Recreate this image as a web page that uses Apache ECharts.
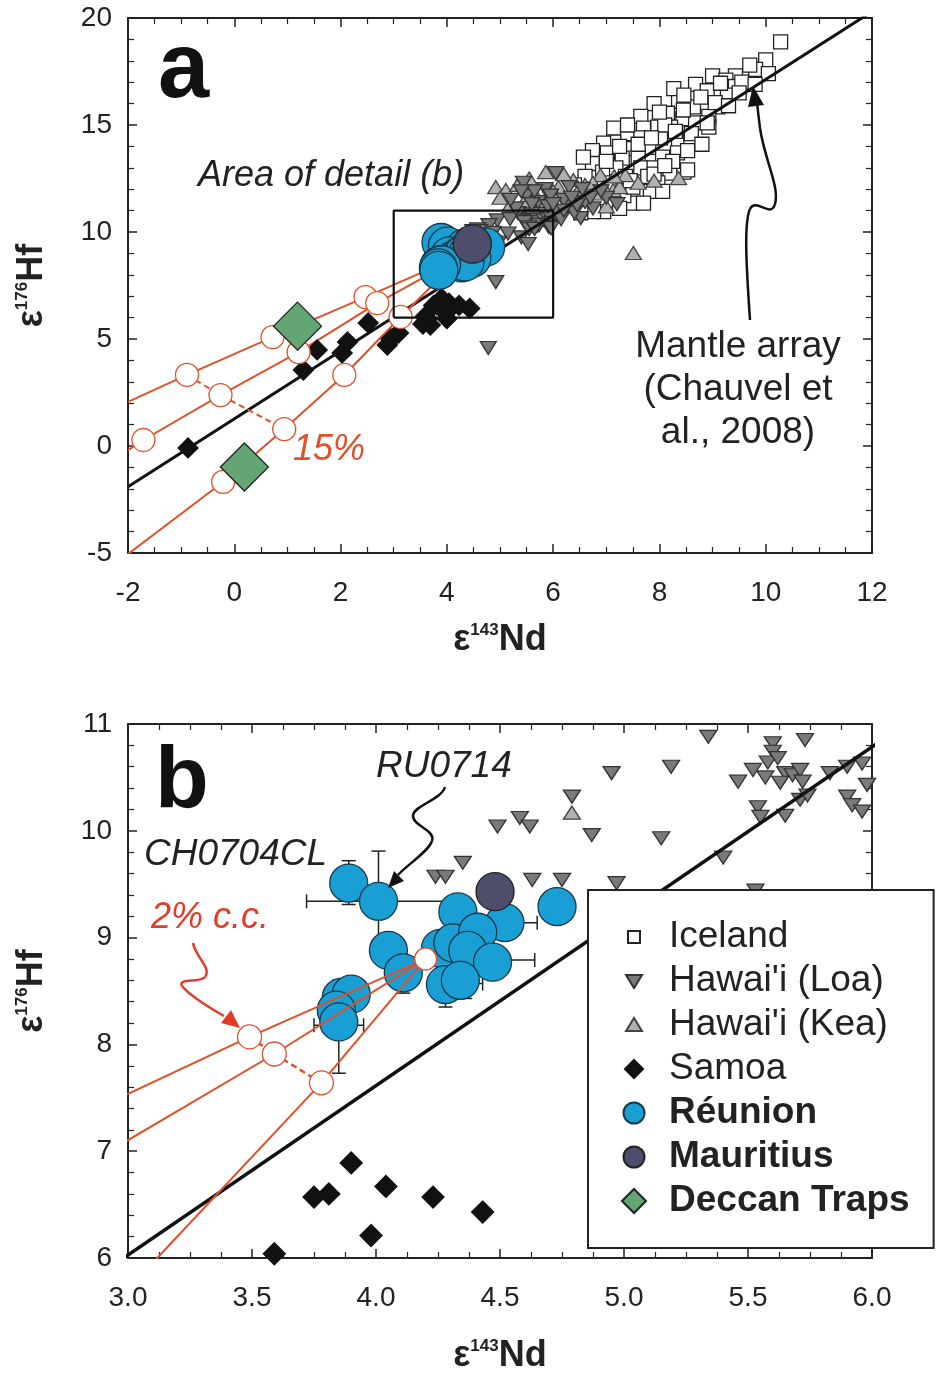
<!DOCTYPE html>
<html>
<head>
<meta charset="utf-8">
<title>eHf vs eNd</title>
<script src="https://cdn.jsdelivr.net/npm/echarts@6.0.0/dist/echarts.min.js"></script>
<style>
  html, body { margin: 0; padding: 0; background: #fff; }
  #chart { width: 938px; height: 1373px; }
</style>
</head>
<body>
<div id="chart"></div>
<script>
var FONT = "'Liberation Sans', Arial, Helvetica, sans-serif";

// axis ranges (panel a = whole array, panel b = area of detail)
var aX = [-2, 12], aY = [-5, 20];
var bX = [3, 6], bY = [6, 11];

// data: [eNd, eHf]
var iceland = [[10.28,18.88],[10.0,18.04],[9.81,17.6],[10.05,17.4],[9.43,17.3],[9.0,17.3],[9.25,17.1],[8.68,16.9],
  [8.9,16.6],[9.43,16.8],[9.28,16.4],[9.1,15.85],[8.93,15.4],[8.64,15.85],[8.36,16.1],[7.9,16.0],[7.65,15.4],
  [8.15,15.55],[8.44,15.3],[8.68,15.1],[8.93,14.9],[8.21,14.9],[7.97,14.9],[7.7,14.85],[7.14,14.85],[7.4,14.6],
  [7.65,14.4],[7.14,14.2],[6.95,14.15],[8.02,14.4],[8.36,14.2],[8.59,14.3],[7.5,13.9],[7.8,13.95],[6.74,13.8],
  [7.02,13.7],[7.3,13.45],[7.6,13.5],[8.06,13.5],[8.34,13.7],[8.53,13.8],[7.18,13.0],[6.74,13.2],[6.93,12.8],
  [7.65,13.0],[7.9,13.0],[8.2,12.75],[8.46,12.8],[7.78,12.6],[7.97,12.3],[7.83,11.9],[8.06,11.9],[7.51,11.35],
  [7.7,11.35],[7.33,11.7],[6.95,10.95],[6.76,10.95],[6.52,10.9],[7.36,12.6],[7.5,12.1],[8.27,16.7],[8.46,16.4],
  [8.78,16.3],[9.05,16.05],[9.55,17.0],[8.1,15.0],[7.25,14.0],[6.6,12.6],[7.05,12.3],[8.25,13.3],[7.45,12.4],
  [9.7,17.8],[6.57,13.5],[6.4,12.2],[6.7,12.0],[7.1,11.5],[7.25,11.1],[7.9,12.7],[8.1,13.1],[8.6,14.6],
  [8.9,15.1],[9.3,15.9],[9.5,16.5],[9.8,16.9],[8.0,15.6],[7.4,15.0],[7.0,13.3],[7.6,14.1],[8.3,14.7],
  [8.8,14.1],[8.45,15.7],[7.85,14.4],[9.15,16.95],[8.53,12.9]];

var hawaiiLoa = [[5.34,10.88],[5.60,10.82],[5.73,10.85],[5.60,10.74],[5.58,10.64],[5.62,10.68],[5.52,10.57],
  [5.57,10.50],[5.65,10.54],[5.68,10.52],[5.71,10.57],[5.63,10.45],[5.72,10.46],[5.46,10.46],[5.83,10.54],
  [5.90,10.60],[5.96,10.63],[5.98,10.43],[5.71,10.29],[5.74,10.33],[5.90,10.32],[5.92,10.24],[5.96,10.18],
  [5.54,10.22],[5.55,10.13],[5.65,10.14],[4.95,10.54],[5.19,10.60],[4.79,10.32],[4.58,10.12],[4.62,10.04],
  [4.49,10.04],[4.87,9.96],[5.15,9.93],[5.40,9.75],[4.35,9.70],[4.24,9.57],[4.28,9.57],[4.63,9.54],[4.75,9.54],
  [4.97,9.51],[5.53,9.44],
  [4.92,7.66],[4.78,4.58],[5.44,12.3],[6.05,12.75],[5.72,11.4],[6.08,10.9],[6.27,11.2],[6.52,10.65],[5.9,11.2],
  [6.2,11.5],[6.4,10.9],[5.5,11.7],[6.75,11.1],[5.3,11.1],[6.15,10.6],[5.85,12.0],[6.6,11.4],[7.0,11.6],
  [6.3,12.1],[5.6,11.3],[6.2,11.0],[6.45,11.25],[6.7,11.6],[5.2,11.5],[5.95,11.7],[6.35,11.6],[5.65,11.9],
  [6.9,11.9],[7.2,11.3],[6.0,11.3],[5.4,11.9],[6.55,12.0]];

var hawaiiKea = [[4.92,12.1],[5.11,11.96],[5.33,12.2],[5.86,12.8],[5.6,12.0],[5.9,11.6],[6.38,12.43],[6.1,12.1],
  [6.89,12.66],[7.13,11.96],[7.36,12.66],[8.36,12.52],[6.6,11.5],[6.3,11.2],[5.7,11.1],[7.0,11.2],[5.45,11.4],
  [7.51,9.02],[4.79,10.17],[6.85,11.8],[7.25,12.1],[6.6,12.2],[5.2,11.3],[6.0,11.9],[5.0,11.6],[5.55,12.5],
  [6.2,12.7],[6.75,12.3],[7.6,12.3],[7.9,12.4],[6.45,11.85],[5.8,11.4],[7.15,12.6],[6.95,12.1]];

var samoa = [[-0.87,-0.09],[1.3,3.55],[1.56,4.49],[2.03,4.35],[2.13,4.86],[2.52,5.75],[2.88,4.72],[3.09,5.28],
  [2.95,5.0],[3.69,5.65],[3.63,5.95],[3.55,5.7],[4.0,5.95],[3.59,6.04],[3.75,6.57],[3.81,6.6],[3.90,6.89],
  [3.98,6.21],[4.04,6.67],[4.23,6.57],[4.43,6.43]];

var reunion = [[3.89,9.51],[4.01,9.34],[4.33,9.24],[4.52,9.14],[4.73,9.29],[4.05,8.88],[4.11,8.67],[4.26,8.9],
  [4.28,8.56],[4.31,8.95],[4.41,9.05],[4.37,8.88],[4.47,8.77],[4.34,8.6],[3.86,8.44],[3.90,8.47],[3.84,8.32],
  [3.85,8.21]];
var mauritius = [[4.48, 9.43]];
var deccan = [[1.19, 5.6], [0.19, -0.98]];

// Réunion error bars: vertical [x, yLow, yHigh], horizontal [y, xLow, xHigh]
var errV = [[3.89,9.31,9.72],[4.01,8.85,9.81],[4.28,8.35,8.56],[4.11,8.48,8.67],[4.36,8.43,8.6],[3.85,7.73,8.6],[4.47,8.62,8.77]];
var errH = [[9.34,3.72,4.31],[9.14,4.52,4.65],[8.79,4.47,4.64],[8.18,3.75,3.95],[8.57,4.28,4.43]];

// mantle array (Chauvel et al., 2008)
var mantleArray = [[-2, -1.9], [12, 20.3]];

// crustal contamination mixing curves
var mixUpper = [[4.2,8.8],[3.49,8.07],[2.47,6.96],[0.72,5.09],[-0.89,3.32],[-2,2.06]];
var mixMiddle = [[4.2,8.8],[3.59,7.91],[2.69,6.68],[1.21,4.39],[-0.26,2.38],[-1.71,0.28],[-2,-0.19]];
var mixLower = [[4.2,8.8],[3.78,7.64],[3.13,6.03],[2.07,3.32],[0.94,0.79],[-0.21,-1.68],[-2.0,-5.05]];
var mixOrigin = [[4.2, 8.8]];
var mixStepsA = [[2.47,6.96],[0.72,5.09],[-0.89,3.32],[2.69,6.68],[1.21,4.39],[-0.26,2.38],[-1.71,0.28],
  [3.13,6.03],[2.07,3.32],[0.94,0.79],[-0.21,-1.68]];
var mixStepsB = [[3.49,8.07],[3.59,7.91],[3.78,7.64]];
var tie15 = [[-0.89,3.32],[-0.26,2.38],[0.94,0.79]];
var tie2 = [[3.49,8.07],[3.59,7.91],[3.78,7.64]];

var legendNames = ['Iceland', "Hawai'i (Loa)", "Hawai'i (Kea)", 'Samoa', 'Réunion', 'Mauritius', 'Deccan Traps'];
var boldNames = ['Réunion', 'Mauritius', 'Deccan Traps'];
// legend icons drawn in a 60x24 box (the leading moves fix the box)
var BOX = 'path://M0,0M60,24';
var CIRC = 'M19.5,12A10.5,10.5,0,1,0,40.5,12A10.5,10.5,0,1,0,19.5,12Z';
var legendIcons = [BOX + 'M24,6L36,6L36,18L24,18Z', BOX + 'M22,6L38,6L30,19Z', BOX + 'M22,18L38,18L30,5Z',
  BOX + 'M30,3L39,12L30,21L21,12Z', BOX + CIRC, BOX + CIRC, BOX + 'M30,0L42,12L30,24L18,12Z'];

var MIX = '#e0502a';
var nameRich = {
  e: {fontSize: 36, fontWeight: 'bold', fontFamily: FONT, color: '#222'},
  s: {fontSize: 17, fontWeight: 'bold', fontFamily: FONT, color: '#222', verticalAlign: 'top'},
  t: {fontSize: 36, fontWeight: 'bold', fontFamily: FONT, color: '#222'}
};

function xAxisOf(grid, range, step, minor, pos, labels, fmt, gap) {
  return {
    type: 'value', gridIndex: grid, min: range[0], max: range[1], interval: step, position: pos,
    axisLine: {show: true, onZero: false, lineStyle: {color: '#222', width: 2}},
    axisTick: {show: true, inside: true, length: 9, lineStyle: {color: '#222', width: 1.5}},
    minorTick: {show: true, splitNumber: minor, length: 6, lineStyle: {color: '#222', width: 1.2}},
    splitLine: {show: false}, minorSplitLine: {show: false},
    axisLabel: {show: labels, fontSize: 28, color: '#222', fontFamily: FONT, margin: 26,
      formatter: fmt, showMinLabel: true, showMaxLabel: true},
    name: labels ? '{e|ε}{s|143}{t|Nd}' : '', nameLocation: 'middle', nameGap: gap,
    nameTextStyle: {rich: nameRich}
  };
}
function yAxisOf(grid, range, step, minor, pos, labels, gap) {
  return {
    type: 'value', gridIndex: grid, min: range[0], max: range[1], interval: step, position: pos,
    axisLine: {show: true, onZero: false, lineStyle: {color: '#222', width: 2}},
    axisTick: {show: true, inside: true, length: 9, lineStyle: {color: '#222', width: 1.5}},
    minorTick: {show: true, splitNumber: minor, length: 6, lineStyle: {color: '#222', width: 1.2}},
    splitLine: {show: false}, minorSplitLine: {show: false},
    axisLabel: {show: labels, fontSize: 28, color: '#222', fontFamily: FONT, margin: 16,
      showMinLabel: true, showMaxLabel: true},
    name: labels ? '{e|ε}{s|176}{t|Hf}' : '', nameLocation: 'middle', nameGap: gap, nameRotate: 90,
    nameTextStyle: {rich: nameRich}
  };
}
var oneDec = function (v) { return v.toFixed(1); };

function pts(name, data, p, symbol, size, fill, stroke, z, rot) {
  return {
    type: 'scatter', name: name, data: data, xAxisIndex: p * 2, yAxisIndex: p * 2,
    symbol: symbol, symbolSize: size, symbolRotate: rot || 0, z: z, silent: true,
    itemStyle: {color: fill, borderColor: stroke, borderWidth: 1.3, opacity: 1}
  };
}
function line(data, p, color, width, z, dashed) {
  return {
    type: 'line', data: data, xAxisIndex: p * 2, yAxisIndex: p * 2, symbol: 'none', z: z, silent: true,
    lineStyle: {color: color, width: width, type: dashed ? [6, 4] : 'solid'}
  };
}
function errorBars(data, p, horizontal) {
  return {
    type: 'custom', data: data, xAxisIndex: p * 2, yAxisIndex: p * 2, z: 5, silent: true,
    encode: horizontal ? {x: [1, 2], y: 0} : {x: 0, y: [1, 2]},
    renderItem: function (params, api) {
      var a, b, c = 7, st = {stroke: '#222', lineWidth: 1.5};
      if (horizontal) {
        a = api.coord([api.value(1), api.value(0)]);
        b = api.coord([api.value(2), api.value(0)]);
        return {type: 'group', children: [
          {type: 'line', shape: {x1: a[0], y1: a[1], x2: b[0], y2: b[1]}, style: st},
          {type: 'line', shape: {x1: a[0], y1: a[1] - c, x2: a[0], y2: a[1] + c}, style: st},
          {type: 'line', shape: {x1: b[0], y1: b[1] - c, x2: b[0], y2: b[1] + c}, style: st}
        ]};
      }
      a = api.coord([api.value(0), api.value(1)]);
      b = api.coord([api.value(0), api.value(2)]);
      return {type: 'group', children: [
        {type: 'line', shape: {x1: a[0], y1: a[1], x2: b[0], y2: b[1]}, style: st},
        {type: 'line', shape: {x1: a[0] - c, y1: a[1], x2: a[0] + c, y2: a[1]}, style: st},
        {type: 'line', shape: {x1: b[0] - c, y1: b[1], x2: b[0] + c, y2: b[1]}, style: st}
      ]};
    }
  };
}

var detailBox = [[bX[0], bY[0]], [bX[0], bY[1]], [bX[1], bY[1]], [bX[1], bY[0]], [bX[0], bY[0]]];

var series = [
  // panel a
  pts('Iceland', iceland, 0, 'rect', 14, '#fff', '#222', 2),
  pts("Hawai'i (Kea)", hawaiiKea, 0, 'triangle', [16, 13], '#b0b0b0', '#444', 3),
  pts("Hawai'i (Loa)", hawaiiLoa, 0, 'triangle', [16, 13], '#7a7a7a', '#333', 3, 180),
  line(mantleArray, 0, '#111', 3, 4),
  pts('Samoa', samoa, 0, 'diamond', 20, '#111', '#111', 5),
  line(mixUpper, 0, MIX, 2, 5),
  line(mixMiddle, 0, MIX, 2, 5),
  line(mixLower, 0, MIX, 2, 5),
  line(tie15, 0, MIX, 2, 5, true),
  pts('', mixStepsA, 0, 'circle', 23, '#fff', MIX, 6),
  pts('Réunion', reunion, 0, 'circle', 38, '#1a9fd4', '#16394a', 7),
  pts('Mauritius', mauritius, 0, 'circle', 38, '#4e4d6b', '#222', 8),
  pts('Deccan Traps', deccan, 0, 'diamond', 48, '#63a673', '#222', 8),
  line(detailBox, 0, '#111', 2.2, 9),
  // panel b
  pts('Samoa', samoa, 1, 'diamond', 22, '#111', '#111', 2),
  pts("Hawai'i (Loa)", hawaiiLoa, 1, 'triangle', [17, 13], '#7a7a7a', '#333', 3, 180),
  pts("Hawai'i (Kea)", hawaiiKea, 1, 'triangle', [17, 13], '#b0b0b0', '#444', 3),
  line(mantleArray, 1, '#111', 3.5, 4),
  errorBars(errV, 1, false),
  errorBars(errH, 1, true),
  pts('Réunion', reunion, 1, 'circle', 38, '#1a9fd4', '#16394a', 6),
  pts('Mauritius', mauritius, 1, 'circle', 38, '#4e4d6b', '#222', 7),
  line(mixUpper, 1, MIX, 2, 8),
  line(mixMiddle, 1, MIX, 2, 8),
  line(mixLower, 1, MIX, 2, 8),
  line(tie2, 1, MIX, 2.5, 8, true),
  pts('', mixStepsB, 1, 'circle', 24, '#fff', MIX, 9),
  pts('', mixOrigin, 1, 'circle', 22, '#fff', MIX, 9)
];

function txt(s, x, y, size, opts) {
  opts = opts || {};
  return {
    type: 'text', x: x, y: y, z: 100, silent: true,
    style: {
      text: s, fontSize: size, fontFamily: FONT, fontStyle: opts.italic ? 'italic' : 'normal',
      fontWeight: opts.bold ? 'bold' : 'normal', fill: opts.color || '#222',
      align: opts.align || 'left', verticalAlign: 'middle',
      textAlign: opts.align || 'left', textVerticalAlign: 'middle', lineHeight: opts.lh || size
    }
  };
}
// cubic segment: [x1, y1, cpx1, cpy1, cpx2, cpy2, x2, y2]
function bez(s, color) {
  return {type: 'bezierCurve', z: 100, silent: true,
    shape: {x1: s[0], y1: s[1], cpx1: s[2], cpy1: s[3], cpx2: s[4], cpy2: s[5], x2: s[6], y2: s[7]},
    style: {fill: null, stroke: color, lineWidth: 2.5}};
}
function head(points, color) {
  return {type: 'polygon', z: 100, silent: true, shape: {points: points}, style: {fill: color}};
}

var RED = '#e23b2a';
var graphics = [
  txt('a', 158, 72, 92, {bold: true, color: '#111'}),
  txt('b', 155, 783, 88, {bold: true, color: '#111'}),
  txt('Area of detail (b)', 198, 176, 36, {italic: true}),
  txt('Mantle array\n(Chauvel et\nal., 2008)', 738, 390, 37, {align: 'center', lh: 43}),
  txt('15%', 293, 450, 36, {italic: true, color: MIX}),
  txt('RU0714', 376, 767, 37, {italic: true}),
  txt('CH0704CL', 144, 855, 37, {italic: true}),
  txt('2% c.c.', 151, 918, 36, {italic: true, color: RED}),
  // arrow to the mantle array
  bez([750, 320, 746, 262, 744, 222, 750, 209], '#111'),
  bez([750, 209, 756, 197, 771, 219, 775, 204], '#111'),
  bez([775, 204, 780, 187, 764, 158, 760, 128], '#111'),
  bez([760, 128, 759, 120, 758, 112, 757, 102], '#111'),
  head([[753, 86], [764, 105], [748, 107]], '#111'),
  // arrow to RU0714
  bez([445, 787, 441, 800, 415, 805, 413, 815], '#111'),
  bez([413, 815, 412, 826, 436, 830, 432, 841], '#111'),
  bez([432, 841, 428, 852, 408, 864, 398, 875], '#111'),
  head([[388, 888], [404, 881], [394, 871]], '#111'),
  // arrow to 2% c.c.
  bez([193, 943, 196, 958, 212, 968, 205, 977], RED),
  bez([205, 977, 200, 983, 177, 978, 182, 986], RED),
  bez([182, 986, 190, 996, 210, 1008, 224, 1016], RED),
  head([[240, 1028], [221, 1023], [231, 1010]], RED)
];

var chart = echarts.init(document.getElementById('chart'), null, {renderer: 'canvas'});
chart.setOption({
  backgroundColor: '#fff',
  animation: false,
  textStyle: {fontFamily: FONT},
  grid: [
    {left: 128, right: 66, top: 18, height: 535, outerBoundsMode: 'none', containLabel: false},
    {left: 128, right: 66, top: 724, height: 534, outerBoundsMode: 'none', containLabel: false}
  ],
  xAxis: [
    xAxisOf(0, aX, 2, 4, 'bottom', true, null, 69),
    xAxisOf(0, aX, 2, 4, 'top', false, null, 0),
    xAxisOf(1, bX, 0.5, 4, 'bottom', true, oneDec, 80),
    xAxisOf(1, bX, 0.5, 4, 'top', false, oneDec, 0)
  ],
  yAxis: [
    yAxisOf(0, aY, 5, 5, 'left', true, 78),
    yAxisOf(0, aY, 5, 5, 'right', false, 0),
    yAxisOf(1, bY, 1, 5, 'left', true, 78),
    yAxisOf(1, bY, 1, 5, 'right', false, 0)
  ],
  legend: {
    orient: 'vertical', left: 588, top: 890, z: 50,
    padding: [28, 24, 28, 15],
    itemWidth: 60, itemHeight: 24, itemGap: 6,
    backgroundColor: '#fff', borderColor: '#222', borderWidth: 2, borderRadius: 0,
    selectedMode: false,
    textStyle: {fontSize: 37, fontFamily: FONT, color: '#222', lineHeight: 38},
    data: legendNames.map(function (n, i) {
      return {name: n, icon: legendIcons[i],
        textStyle: {fontWeight: boldNames.indexOf(n) >= 0 ? 'bold' : 'normal'}};
    })
  },
  series: series,
  graphic: graphics
});
</script>
</body>
</html>
